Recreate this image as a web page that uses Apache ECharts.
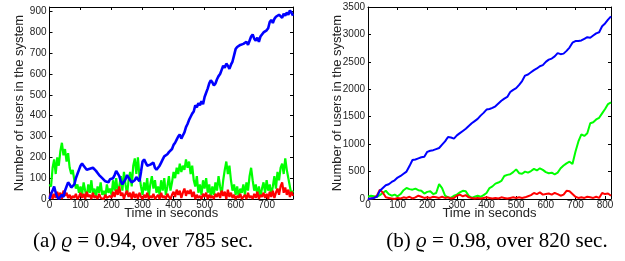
<!DOCTYPE html>
<html>
<head>
<meta charset="utf-8">
<script src="https://cdn.jsdelivr.net/npm/echarts@6/dist/echarts.min.js"></script>
<style>
  body { margin: 0; background: #fff; }
</style>
</head>
<body>
<div id="myChart" style="width: 625px; height: 261px;"></div>
<script>
// sample spacing in seconds for each run
const stepA = 5;
const stepB = 10;

// (a) rho = 0.94, 785 sec, one value every 5 s
const blueA = [
  0, 25, 40, 60, 30, 10, 0, 5, 20, 10,
  40, 60, 80, 70, 55, 50, 70, 100, 120, 140,
  160, 170, 160, 150, 140, 135, 145, 140, 150, 145,
  135, 125, 115, 110, 100, 95, 85, 90, 80, 95,
  90, 100, 115, 135, 140, 110, 85, 70, 75, 95,
  115, 110, 90, 80, 75, 90, 105, 100, 85, 130,
  180, 190, 175, 160, 155, 165, 170, 175, 150, 140,
  150, 160, 175, 190, 205, 200, 215, 225, 220, 240,
  260, 270, 285, 300, 310, 290, 305, 320, 345, 360,
  380, 395, 410, 420, 450, 440, 460, 450, 470, 455,
  490, 510, 530, 555, 570, 560, 545, 555, 575, 590,
  600, 620, 640, 630, 650, 640, 625, 645, 660, 690,
  720, 730, 725, 740, 735, 745, 750, 755, 740, 760,
  780, 790, 770, 760, 775, 755, 780, 790, 800, 795,
  810, 820, 850, 860, 845, 865, 875, 870, 885, 880,
  870, 890, 880, 895, 885, 905, 895, 880
];
const greenA = [
  70, 60, 150, 190, 120, 200, 160, 230, 270, 210,
  240, 180, 220, 150, 120, 140, 90, 50, 70, 30,
  60, 20, 80, 40, 10, 70, 30, 90, 20, 50,
  10, 60, 30, 80, 20, 40, 10, 70, 30, 50,
  20, 90, 40, 100, 30, 60, 110, 40, 130, 70,
  20, 90, 130, 60, 160, 195, 120, 200, 110, 60,
  20, 80, 40, 100, 10, 70, 110, 50, 90, 30,
  60, 20, 90, 40, 100, 20, 60, 110, 40, 80,
  130, 100, 150, 120, 170, 130, 160, 140, 190, 150,
  180, 120, 160, 90, 60, 110, 30, 70, 20, 90,
  50, 100, 30, 70, 10, 60, 20, 80, 40, 110,
  60, 20, 90, 140, 180, 120, 160, 90, 40, 70,
  20, 60, 10, 50, 30, 70, 20, 80, 40, 110,
  150, 90, 40, 70, 20, 60, 10, 50, 80, 30,
  90, 40, 70, 20, 60, 110, 50, 130, 90, 150,
  170, 120, 195, 140, 100, 60, 20, 40
];
const redA = [
  10, 30, 0, 25, 5, 35, 10, 30, 0, 40,
  15, 30, 5, 20, 0, 15, 5, 25, 0, 10,
  30, 5, 25, 0, 35, 10, 20, 0, 30, 5,
  15, 0, 25, 5, 10, 0, 20, 5, 0, 15,
  5, 35, 10, 45, 20, 60, 15, 30, 0, 25,
  40, 10, 30, 0, 35, 5, 25, 0, 30, 10,
  0, 20, 5, 30, 0, 15, 5, 25, 0, 10,
  20, 0, 30, 5, 15, 0, 25, 10, 0, 20,
  35, 10, 45, 20, 40, 5, 30, 50, 15, 40,
  25, 45, 10, 35, 0, 20, 5, 15, 0, 25,
  10, 30, 0, 20, 5, 15, 0, 25, 10, 30,
  5, 40, 15, 35, 0, 45, 10, 30, 5, 20,
  0, 15, 5, 25, 0, 10, 20, 0, 30, 5,
  15, 0, 25, 5, 35, 0, 20, 10, 30, 5,
  25, 0, 35, 10, 40, 5, 30, 50, 20, 60,
  80, 30, 55, 20, 45, 10, 35, 15
];

// (b) rho = 0.98, 820 sec, one value every 10 s
const blueB = [
  0, 10, 20, 40, 150, 200, 250, 270, 310, 340,
  390, 420, 460, 500, 600, 710, 720, 740, 760, 770,
  860, 880, 890, 910, 930, 990, 1050, 1130, 1120, 1100,
  1160, 1200, 1240, 1280, 1330, 1380, 1420, 1460, 1520, 1570,
  1630, 1640, 1660, 1690, 1740, 1790, 1830, 1860, 1950, 1990,
  2020, 2080, 2150, 2250, 2270, 2310, 2350, 2380, 2420, 2440,
  2500, 2540, 2560, 2600, 2660, 2640, 2650, 2700, 2760, 2850,
  2880, 2880, 2890, 2920, 2950, 2940, 2980, 3020, 3040, 3150,
  3200, 3270, 3330
];
const greenB = [
  40, 60, 50, 40, 70, 110, 150, 90, 60, 80,
  50, 90, 160, 200, 180, 170, 190, 160, 150, 100,
  130, 140, 90, 110, 270, 200, 60, 30, 20, 60,
  80, 120, 150, 140, 60, 20, 40, 60, 40, 70,
  110, 200, 230, 280, 300, 330, 420, 440, 450, 490,
  540, 470, 460, 500, 480, 510, 550, 520, 560, 530,
  490, 470, 480, 450, 480, 560, 610, 650, 680, 640,
  860, 1050, 1180, 1150, 1200, 1380, 1400, 1450, 1480, 1560,
  1640, 1730, 1760
];
const redB = [
  0, 10, 20, 60, 170, 120, 30, 20, 10, 0,
  20, 10, 30, 20, 40, 10, 30, 60, 40, 20,
  30, 20, 40, 30, 20, 40, 20, 30, 10, 20,
  60, 80, 50, 70, 30, 20, 10, 20, 10, 20,
  30, 20, 10, 20, 10, 30, 20, 10, 20, 30,
  20, 30, 20, 30, 50, 70, 110, 90, 120, 80,
  90, 100, 80, 110, 90, 60, 80, 150, 140, 90,
  40, 20, 30, 20, 40, 30, 20, 40, 20, 110,
  90, 100, 60
];

const captionA = '(a) {i|ϱ} = 0.94, over 785 sec.';
const captionB = '(b) {i|ϱ} = 0.98, over 820 sec.';

// pair each value with its sample time
function pairs(values, step) {
  return values.map(function (v, i) { return [i * step, v]; });
}

const sansFont = 'Liberation Sans, Arial, sans-serif';
const serifFont = 'Liberation Serif, DejaVu Serif, serif';

function bottomAxis(gridIndex, max) {
  return {
    type: 'value', gridIndex: gridIndex, position: 'bottom',
    min: 0, max: max, interval: 100,
    name: 'Time in seconds', nameLocation: 'middle', nameGap: 8, nameMoveOverlap: false,
    nameTextStyle: { fontFamily: sansFont, fontSize: 13, color: '#222', verticalAlign: 'top' },
    axisLine: { lineStyle: { color: '#000', width: 1 } },
    axisTick: { inside: true, length: 3, lineStyle: { color: '#000' } },
    axisLabel: { fontFamily: sansFont, fontSize: 10, color: '#222', margin: 1, showMaxLabel: false },
    splitLine: { show: false }
  };
}
function topAxis(gridIndex, max) {
  return {
    type: 'value', gridIndex: gridIndex, position: 'top',
    min: 0, max: max, interval: 100,
    axisLine: { onZero: false, lineStyle: { color: '#000', width: 1 } },
    axisTick: { inside: true, length: 3, lineStyle: { color: '#000' } },
    axisLabel: { show: false },
    splitLine: { show: false }
  };
}
function leftAxis(gridIndex, max, interval) {
  return {
    type: 'value', gridIndex: gridIndex, position: 'left',
    min: 0, max: max, interval: interval,
    name: 'Number of users in the system', nameLocation: 'middle', nameGap: 24, nameMoveOverlap: false,
    nameTextStyle: { fontFamily: sansFont, fontSize: 13, color: '#222' },
    axisLine: { show: true, lineStyle: { color: '#000', width: 1 } },
    axisTick: { show: true, inside: true, length: 3, lineStyle: { color: '#000' } },
    axisLabel: {
      fontFamily: sansFont, fontSize: 10, color: '#222', margin: 3,
      showMaxLabel: max % interval === 0,
      formatter: function (v) { return String(v); }
    },
    splitLine: { show: false }
  };
}
function rightAxis(gridIndex, max, interval) {
  return {
    type: 'value', gridIndex: gridIndex, position: 'right',
    min: 0, max: max, interval: interval,
    axisLine: { show: true, onZero: false, lineStyle: { color: '#000', width: 1 } },
    axisTick: { show: true, inside: true, length: 3, lineStyle: { color: '#000' } },
    axisLabel: { show: false },
    splitLine: { show: false }
  };
}
function line(name, data, color, xi, yi, z, width) {
  return {
    name: name, type: 'line', xAxisIndex: xi, yAxisIndex: yi,
    data: data, showSymbol: false, animation: false, z: z,
    lineStyle: { color: color, width: width }
  };
}

let option = {
  animation: false,
  grid: [
    { left: 49.5, top: 7, width: 243.5, height: 192 },
    { left: 368, top: 7, width: 243, height: 192 }
  ],
  xAxis: [
    bottomAxis(0, 785), topAxis(0, 785),
    bottomAxis(1, 820), topAxis(1, 820)
  ],
  yAxis: [
    leftAxis(0, 922, 100), rightAxis(0, 922, 100),
    leftAxis(1, 3500, 500), rightAxis(1, 3500, 500)
  ],
  series: [
    line('green a', pairs(greenA, stepA), '#00ff00', 0, 0, 2, 2.2),
    line('red a', pairs(redA, stepA), '#ff0000', 0, 0, 3, 2.2),
    line('blue a', pairs(blueA, stepA), '#0000ff', 0, 0, 4, 2.6),
    line('green b', pairs(greenB, stepB), '#00ff00', 2, 2, 2, 2),
    line('red b', pairs(redB, stepB), '#ff0000', 2, 2, 3, 2),
    line('blue b', pairs(blueB, stepB), '#0000ff', 2, 2, 4, 2)
  ],
  graphic: [
    {
      type: 'text', x: 143, y: 241,
      style: {
        text: captionA, fontFamily: serifFont, fontSize: 21, fill: '#000',
        textAlign: 'center', textVerticalAlign: 'middle',
        rich: { i: { fontFamily: serifFont, fontSize: 21, fontStyle: 'italic' } }
      }
    },
    {
      type: 'text', x: 497, y: 241,
      style: {
        text: captionB, fontFamily: serifFont, fontSize: 21, fill: '#000',
        textAlign: 'center', textVerticalAlign: 'middle',
        rich: { i: { fontFamily: serifFont, fontSize: 21, fontStyle: 'italic' } }
      }
    }
  ]
};

let myChart = echarts.init(document.getElementById('myChart'));
myChart.setOption(option);
</script>
</body>
</html>
